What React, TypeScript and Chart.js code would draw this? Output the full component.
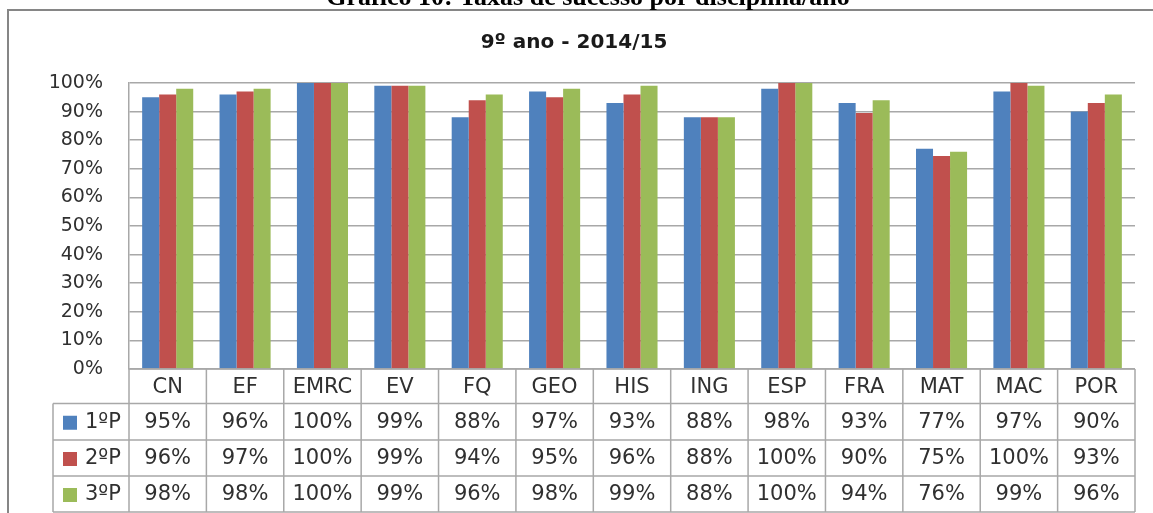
import React, { useEffect, useRef } from "react";
import { Chart, registerables } from "chart.js";

Chart.register(...registerables);

const caption = "Gráfico 10: Taxas de sucesso por disciplina/ano";
const chartTitle = "9º ano - 2014/15";
const categories = ["CN", "EF", "EMRC", "EV", "FQ", "GEO", "HIS", "ING", "ESP", "FRA", "MAT", "MAC", "POR"];
const seriesNames = ["1ºP", "2ºP", "3ºP"];
const p1 = [95, 96, 100, 99, 88, 97, 93, 88, 98, 93, 77, 97, 90];
const p2 = [96, 97, 100, 99, 94, 95, 96, 88, 100, 89.5, 74.5, 100, 93];
const p3 = [98, 98, 100, 99, 96, 98, 99, 88, 100, 94, 76, 99, 96];
const seriesValues = [p1, p2, p3];
const seriesColors = ["#4f81bd", "#c0504d", "#9bbb59"];
const yTicks = [0, 10, 20, 30, 40, 50, 60, 70, 80, 90, 100];

const W = 1153;
const H = 513;
const FONT = '"DejaVu Sans", sans-serif';
const LINE = "#a8a8a8";
const TEXT = "#303030";

const tablePlugin = {
  id: "excelTable",
  afterDraw(chart: any) {
    const ctx = chart.ctx as CanvasRenderingContext2D;
    const area = chart.chartArea;
    const left = area.left;
    const right = area.right;
    const bottom = area.bottom;
    const n = categories.length;
    const cw = (right - left) / n;
    const rowLines = [bottom, bottom + 34.5, bottom + 71, bottom + 107, bottom + 143];
    const legendLeft = 53;

    ctx.save();
    // outer frame
    ctx.strokeStyle = "#868686";
    ctx.lineWidth = 2;
    ctx.beginPath();
    ctx.moveTo(8, H + 5);
    ctx.lineTo(8, 10);
    ctx.lineTo(W + 5, 10);
    ctx.stroke();

    // caption (cut at the top)
    ctx.fillStyle = "#000";
    ctx.font = 'bold 26px "Liberation Serif", serif';
    ctx.textAlign = "center";
    ctx.textBaseline = "alphabetic";
    ctx.fillText(caption, 588, 5);

    // chart title
    ctx.font = `bold 20px ${FONT}`;
    ctx.fillStyle = "#1a1a1a";
    ctx.fillText(chartTitle, 574, 48);

    // table lines
    ctx.strokeStyle = LINE;
    ctx.lineWidth = 1.5;
    ctx.beginPath();
    for (let i = 0; i <= n; i++) {
      const x = left + i * cw;
      ctx.moveTo(x, bottom);
      ctx.lineTo(x, rowLines[4]);
    }
    ctx.moveTo(left, rowLines[0]);
    ctx.lineTo(right, rowLines[0]);
    for (let r = 1; r < rowLines.length; r++) {
      ctx.moveTo(legendLeft, rowLines[r]);
      ctx.lineTo(right, rowLines[r]);
    }
    ctx.moveTo(legendLeft, rowLines[1]);
    ctx.lineTo(legendLeft, rowLines[4]);
    ctx.stroke();

    // category labels
    ctx.fillStyle = TEXT;
    ctx.font = `21px ${FONT}`;
    ctx.textAlign = "center";
    ctx.textBaseline = "middle";
    const xScale = chart.scales.x;
    categories.forEach((c, i) => {
      const x = xScale.getPixelForValue(i);
      ctx.fillText(c, x, (rowLines[0] + rowLines[1]) / 2 + 1);
    });

    // value rows with legend
    seriesValues.forEach((vals, s) => {
      const yc = (rowLines[s + 1] + rowLines[s + 2]) / 2 + 1;
      ctx.fillStyle = seriesColors[s];
      ctx.fillRect(63, yc - 7, 14, 14);
      ctx.fillStyle = TEXT;
      ctx.textAlign = "left";
      ctx.fillText(seriesNames[s], 85, yc);
      ctx.textAlign = "center";
      vals.forEach((v, i) => {
        const x = xScale.getPixelForValue(i);
        ctx.fillText(Math.round(v) + "%", x, yc);
      });
    });
    ctx.restore();
  },
};

export default function App() {
  const ref = useRef<HTMLCanvasElement | null>(null);
  useEffect(() => {
    if (!ref.current) return;
    const chart = new Chart(ref.current, {
      type: "bar",
      data: {
        labels: categories,
        datasets: seriesNames.map((name, s) => ({
          label: name,
          data: seriesValues[s],
          backgroundColor: seriesColors[s],
          borderWidth: 0,
          categoryPercentage: 0.66,
          barPercentage: 1,
        })),
      },
      options: {
        responsive: false,
        animation: false,
        devicePixelRatio: 1,
        layout: { padding: { left: 0, right: 18, top: 83, bottom: 144 } },
        plugins: {
          legend: { display: false },
          title: { display: false },
          tooltip: { enabled: false },
        },
        scales: {
          x: { display: false },
          y: {
            min: 0,
            max: 100,
            afterFit: (scale: any) => {
              scale.width = 129;
            },
            afterBuildTicks: (scale: any) => {
              scale.ticks = yTicks.map((v) => ({ value: v }));
            },
            ticks: {
              callback: (v: any) => v + "%",
              font: { family: FONT, size: 19 },
              color: TEXT,
              padding: 26,
            },
            grid: { color: LINE, lineWidth: 1.5, drawTicks: false },
            border: { display: true, color: LINE, width: 1.5 },
          },
        },
      },
      plugins: [tablePlugin],
    });
    return () => chart.destroy();
  }, []);
  return (
    <div style={{ position: "fixed", left: 0, top: 0, width: W, height: H, background: "#fff" }}>
      <canvas ref={ref} width={W} height={H} style={{ display: "block" }} />
    </div>
  );
}
